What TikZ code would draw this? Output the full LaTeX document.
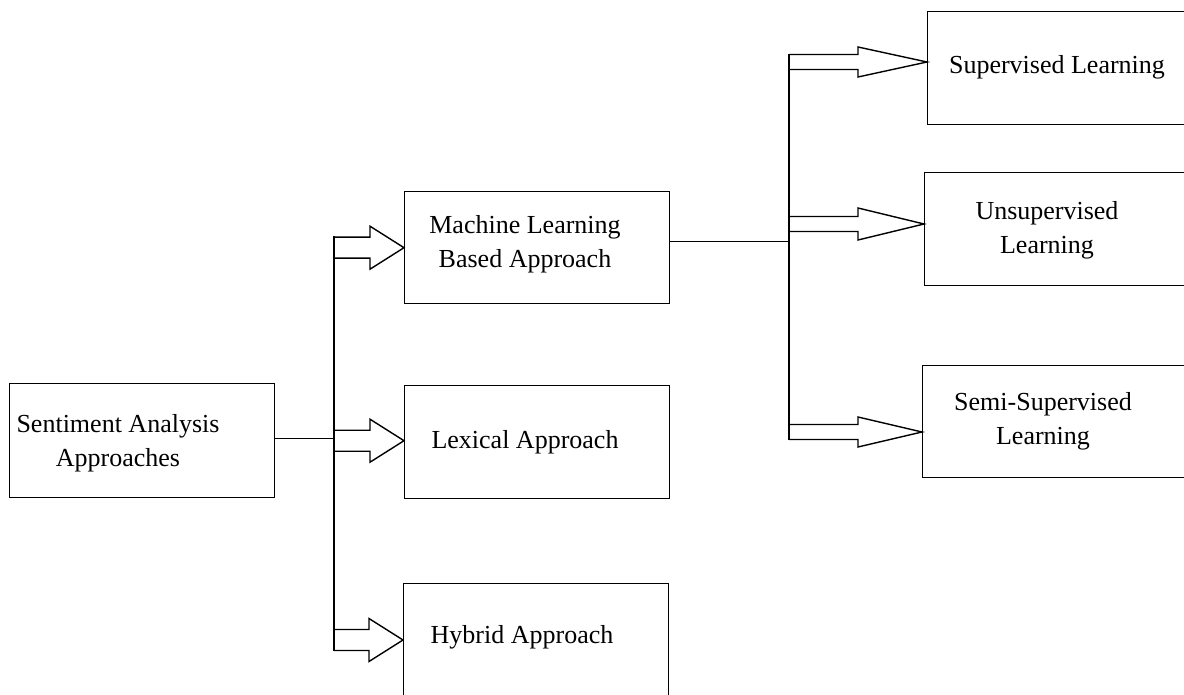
\documentclass[tikz,border=0pt]{standalone}
\usepackage{fontspec}
\setmainfont{Liberation Serif}
\usetikzlibrary{calc}
\newcommand{\harrow}[5]{%
  \draw let \p1=(#1), \p2=(#2) in
    (\x1,\y2+#3) -- (\x2-#5,\y2+#3) -- (\x2-#5,\y2+#4) -- (\x2,\y2)
    -- (\x2-#5,\y2-#4) -- (\x2-#5,\y2-#3) -- (\x1,\y2-#3);}
\begin{document}
\begin{tikzpicture}[x=1pt,y=-1pt,line width=1.4pt,
  box/.style={draw,rectangle,anchor=north west,inner sep=0pt},
  lbl/.style={font=\fontsize{26}{34}\selectfont,align=center,inner sep=0pt}]
\clip (0,0) rectangle (1184,695);
\fill[white] (0,0) rectangle (1184,695);
% boxes
\node[box,minimum width=265pt,minimum height=114pt] (sa) at (9,383) {};
\node[box,minimum width=265pt,minimum height=112pt] (ml) at (404,191) {};
\node[box,minimum width=265pt,minimum height=113pt] (lex) at (404,385) {};
\node[box,minimum width=265pt,minimum height=130pt] (hy) at (403,583) {};
\node[box,minimum width=300pt,minimum height=113pt] (sup) at (927,11) {};
\node[box,minimum width=300pt,minimum height=113pt] (uns) at (924,172) {};
\node[box,minimum width=300pt,minimum height=112pt] (semi) at (922,365) {};
% labels
\node[lbl] (tsa) at (118,443) {Sentiment Analysis\\Approaches};
\node[lbl] (tml) at (525,244) {Machine Learning\\Based Approach};
\node[lbl,anchor=base] (tlex) at (525,448) {Lexical Approach};
\node[lbl,anchor=base] (thy) at (522,643) {Hybrid Approach};
\node[lbl,anchor=base] (tsup) at (1057,74) {Supervised Learning};
\node[lbl] (tuns) at (1047,230) {Unsupervised\\Learning};
\node[lbl] (tsemi) at (1043,421) {Semi-Supervised\\Learning};
% tips
\coordinate (pml) at (ml.west);
\coordinate (plex) at ($(lex.west)+(0,-1.5)$);
\coordinate (phy) at ($(hy.north west)+(0,57)$);
\coordinate (psup) at ($(sup.north west)+(0,51)$);
\coordinate (puns) at ($(uns.north west)+(0,52)$);
\coordinate (psemi) at ($(semi.north west)+(0,67)$);
% trunks
\coordinate (lt) at (334,236.5);
\coordinate (lb) at (334,650.5);
\coordinate (rt) at (789,54.5);
\coordinate (rb) at (789,439.5);
\coordinate (sao) at ($(sa.east)+(0,-2)$);
\coordinate (mlo) at ($(ml.east)+(0,-6)$);
\draw (sao) -- (sao -| lt);
\draw (lt) -- (lb);
\draw (mlo) -- (mlo -| rt);
\draw (rt) -- (rb);
% hollow arrows
\harrow{lt}{pml}{10.5}{21.5}{34}
\harrow{lt}{plex}{10.5}{21.5}{34}
\harrow{lt}{phy}{10.5}{21.5}{34}
\harrow{rt}{psup}{7.5}{15}{69}
\harrow{rt}{puns}{7.5}{16}{66}
\harrow{rt}{psemi}{7.5}{15}{64}
\end{tikzpicture}
\end{document}
